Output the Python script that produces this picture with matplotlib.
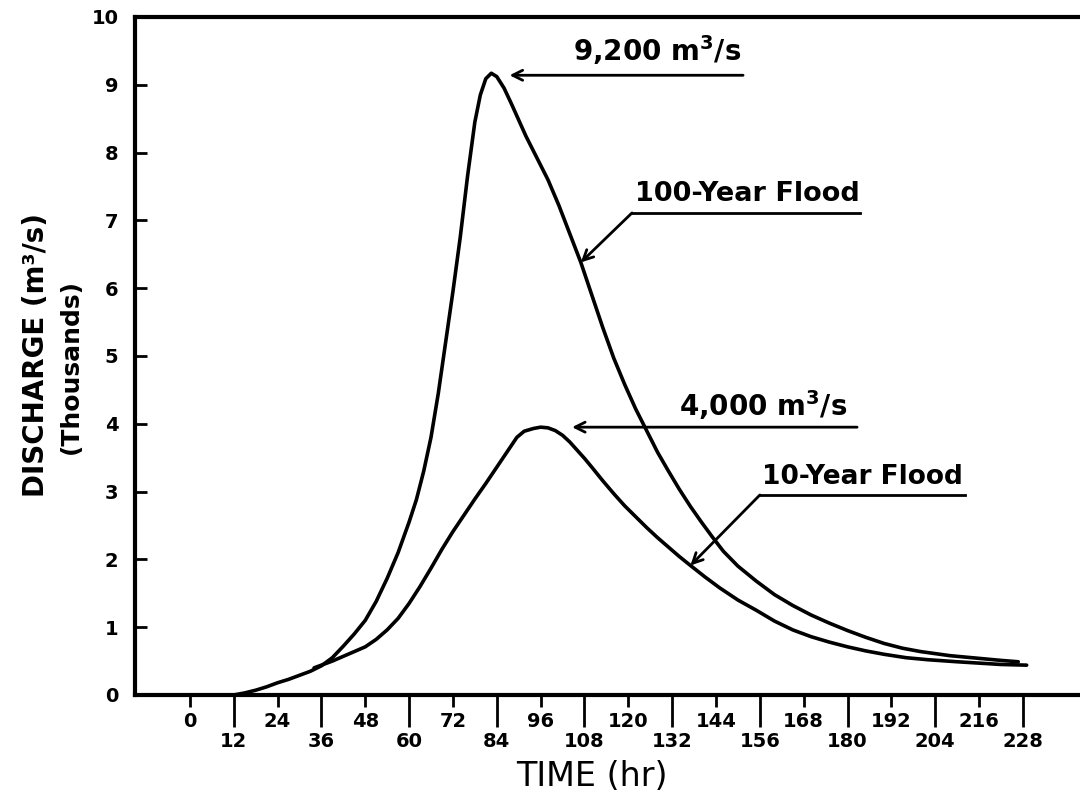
import matplotlib
matplotlib.use('Agg')
import matplotlib.pyplot as plt
import numpy as np

# 100-year flood hydrograph (hr, thousands m3/s)
t100 = [12, 15, 18, 21, 24, 27, 30, 33, 36, 39, 42, 45, 48, 51, 54, 57, 60, 62, 64, 66, 68, 70, 72, 74,
        76, 78, 79.5, 81, 82.5, 84, 86, 88, 90, 92, 95, 98, 101, 104, 107, 110, 113, 116, 119, 122,
        125, 128, 131, 134, 137, 140, 143, 146, 150, 155, 160, 165, 170, 175, 180, 185, 190, 195,
        200, 208, 216, 222, 226.7]
q100 = [0.0, 0.03, 0.07, 0.12, 0.18, 0.23, 0.29, 0.35, 0.43, 0.55, 0.72, 0.9, 1.1, 1.38, 1.72, 2.1, 2.55,
        2.88, 3.3, 3.8, 4.45, 5.2, 5.95, 6.75, 7.65, 8.45, 8.85, 9.09, 9.17, 9.12, 8.95, 8.72, 8.48, 8.24,
        7.92, 7.6, 7.22, 6.8, 6.38, 5.9, 5.42, 4.97, 4.58, 4.22, 3.9, 3.58, 3.3, 3.03, 2.78, 2.55, 2.33,
        2.12, 1.9, 1.68, 1.48, 1.32, 1.18, 1.06, 0.95, 0.85, 0.76, 0.69, 0.64, 0.58, 0.54, 0.51, 0.49]

# 10-year flood hydrograph
t10 = [34, 36, 39, 42, 45, 48, 51, 54, 57, 60, 63, 66, 69, 72, 75, 78, 81, 84, 87, 89.5, 91.5, 94, 96,
       98, 100, 102, 104, 106, 108, 110, 113, 116, 119, 122, 125, 128, 131, 134, 137, 141, 145, 150,
       155, 160, 165, 170, 175, 180, 185, 190, 196, 202, 210, 216, 222, 229]
q10 = [0.40, 0.44, 0.5, 0.57, 0.64, 0.71, 0.82, 0.96, 1.13, 1.35, 1.6, 1.87, 2.15, 2.41, 2.65, 2.89, 3.12,
       3.36, 3.6, 3.8, 3.89, 3.93, 3.95, 3.94, 3.9, 3.83, 3.73, 3.61, 3.49, 3.36, 3.16, 2.97, 2.79, 2.63,
       2.47, 2.32, 2.18, 2.04, 1.91, 1.74, 1.58, 1.4, 1.25, 1.09, 0.96, 0.86, 0.78, 0.71, 0.65, 0.6,
       0.55, 0.52, 0.49, 0.47, 0.45, 0.44]

upper_ticks = list(range(0, 217, 24))
lower_ticks = list(range(12, 229, 24))
yticks = list(range(0, 11))

fig = plt.figure(figsize=(10.8, 7.96), dpi=100)
ax = fig.add_axes([0.125, 0.1269, 0.875, 0.8518])

ax.plot(t100, q100, color='black', lw=2.6, solid_capstyle='round', solid_joinstyle='round')
ax.plot(t10, q10, color='black', lw=2.6, solid_capstyle='round', solid_joinstyle='round')

ax.set_xlim(-15, 243.6)
ax.set_ylim(0, 10)

for s in ['left', 'bottom', 'top']:
    ax.spines[s].set_linewidth(3)
ax.spines['right'].set_visible(False)

ax.set_xticks(upper_ticks)
ax.set_xticklabels([str(v) for v in upper_ticks])
ax.set_xticks(lower_ticks, minor=True)
ax.set_xticklabels([str(v) for v in lower_ticks], minor=True)
ax.tick_params(axis='x', which='major', direction='out', length=8.6, width=2, pad=4, labelsize=14)
ax.tick_params(axis='x', which='minor', direction='out', length=23, width=2, pad=4, labelsize=14)
ax.set_yticks(yticks)
ax.set_yticklabels([str(v) for v in yticks])
ax.tick_params(axis='y', direction='in', length=8.6, width=2, pad=12, labelsize=14)
for lab in ax.get_xticklabels(which='both') + ax.get_yticklabels():
    lab.set_fontweight('bold')

# annotations
arrow = dict(arrowstyle='->', color='black', lw=2, shrinkA=0, shrinkB=0,
             mutation_scale=18)
ipk = int(np.argmax(q100))
ax.annotate('', xy=(t100[ipk] + 5.0, q100[ipk] - 0.03), xytext=(151.4, 9.14), arrowprops=arrow)
ax.text(128, 9.26, r'9,200 m$^\mathbf{3}$/s', ha='center', va='bottom', fontsize=20, fontweight='bold')

i_100 = t100.index(107)
ax.plot([121, 183.4], [7.11, 7.11], color='black', lw=2)
ax.annotate('', xy=(t100[i_100], q100[i_100]), xytext=(121, 7.11), arrowprops=arrow)
ax.text(152.5, 7.2, '100-Year Flood', ha='center', va='bottom', fontsize=19.5, fontweight='bold')

ax.annotate('', xy=(104.6, 3.95), xytext=(182.6, 3.95), arrowprops=arrow)
ax.text(157, 4.02, r'4,000 m$^\mathbf{3}$/s', ha='center', va='bottom', fontsize=20, fontweight='bold')

i_10 = t10.index(137)
ax.plot([156, 212], [2.95, 2.95], color='black', lw=2)
ax.annotate('', xy=(t10[i_10], q10[i_10]), xytext=(156, 2.95), arrowprops=arrow)
ax.text(184, 3.03, '10-Year Flood', ha='center', va='bottom', fontsize=19, fontweight='bold')

fig.text(0.548, 0.025, 'TIME (hr)', ha='center', va='center', fontsize=24)
fig.text(0.033, 0.554, 'DISCHARGE (m³/s)', rotation=90, ha='center', va='center',
         fontsize=20, fontweight='bold')
fig.text(0.066, 0.54, '(Thousands)', rotation=90, ha='center', va='center',
         fontsize=18, fontweight='bold')

fig.savefig('out.png', dpi=100)
